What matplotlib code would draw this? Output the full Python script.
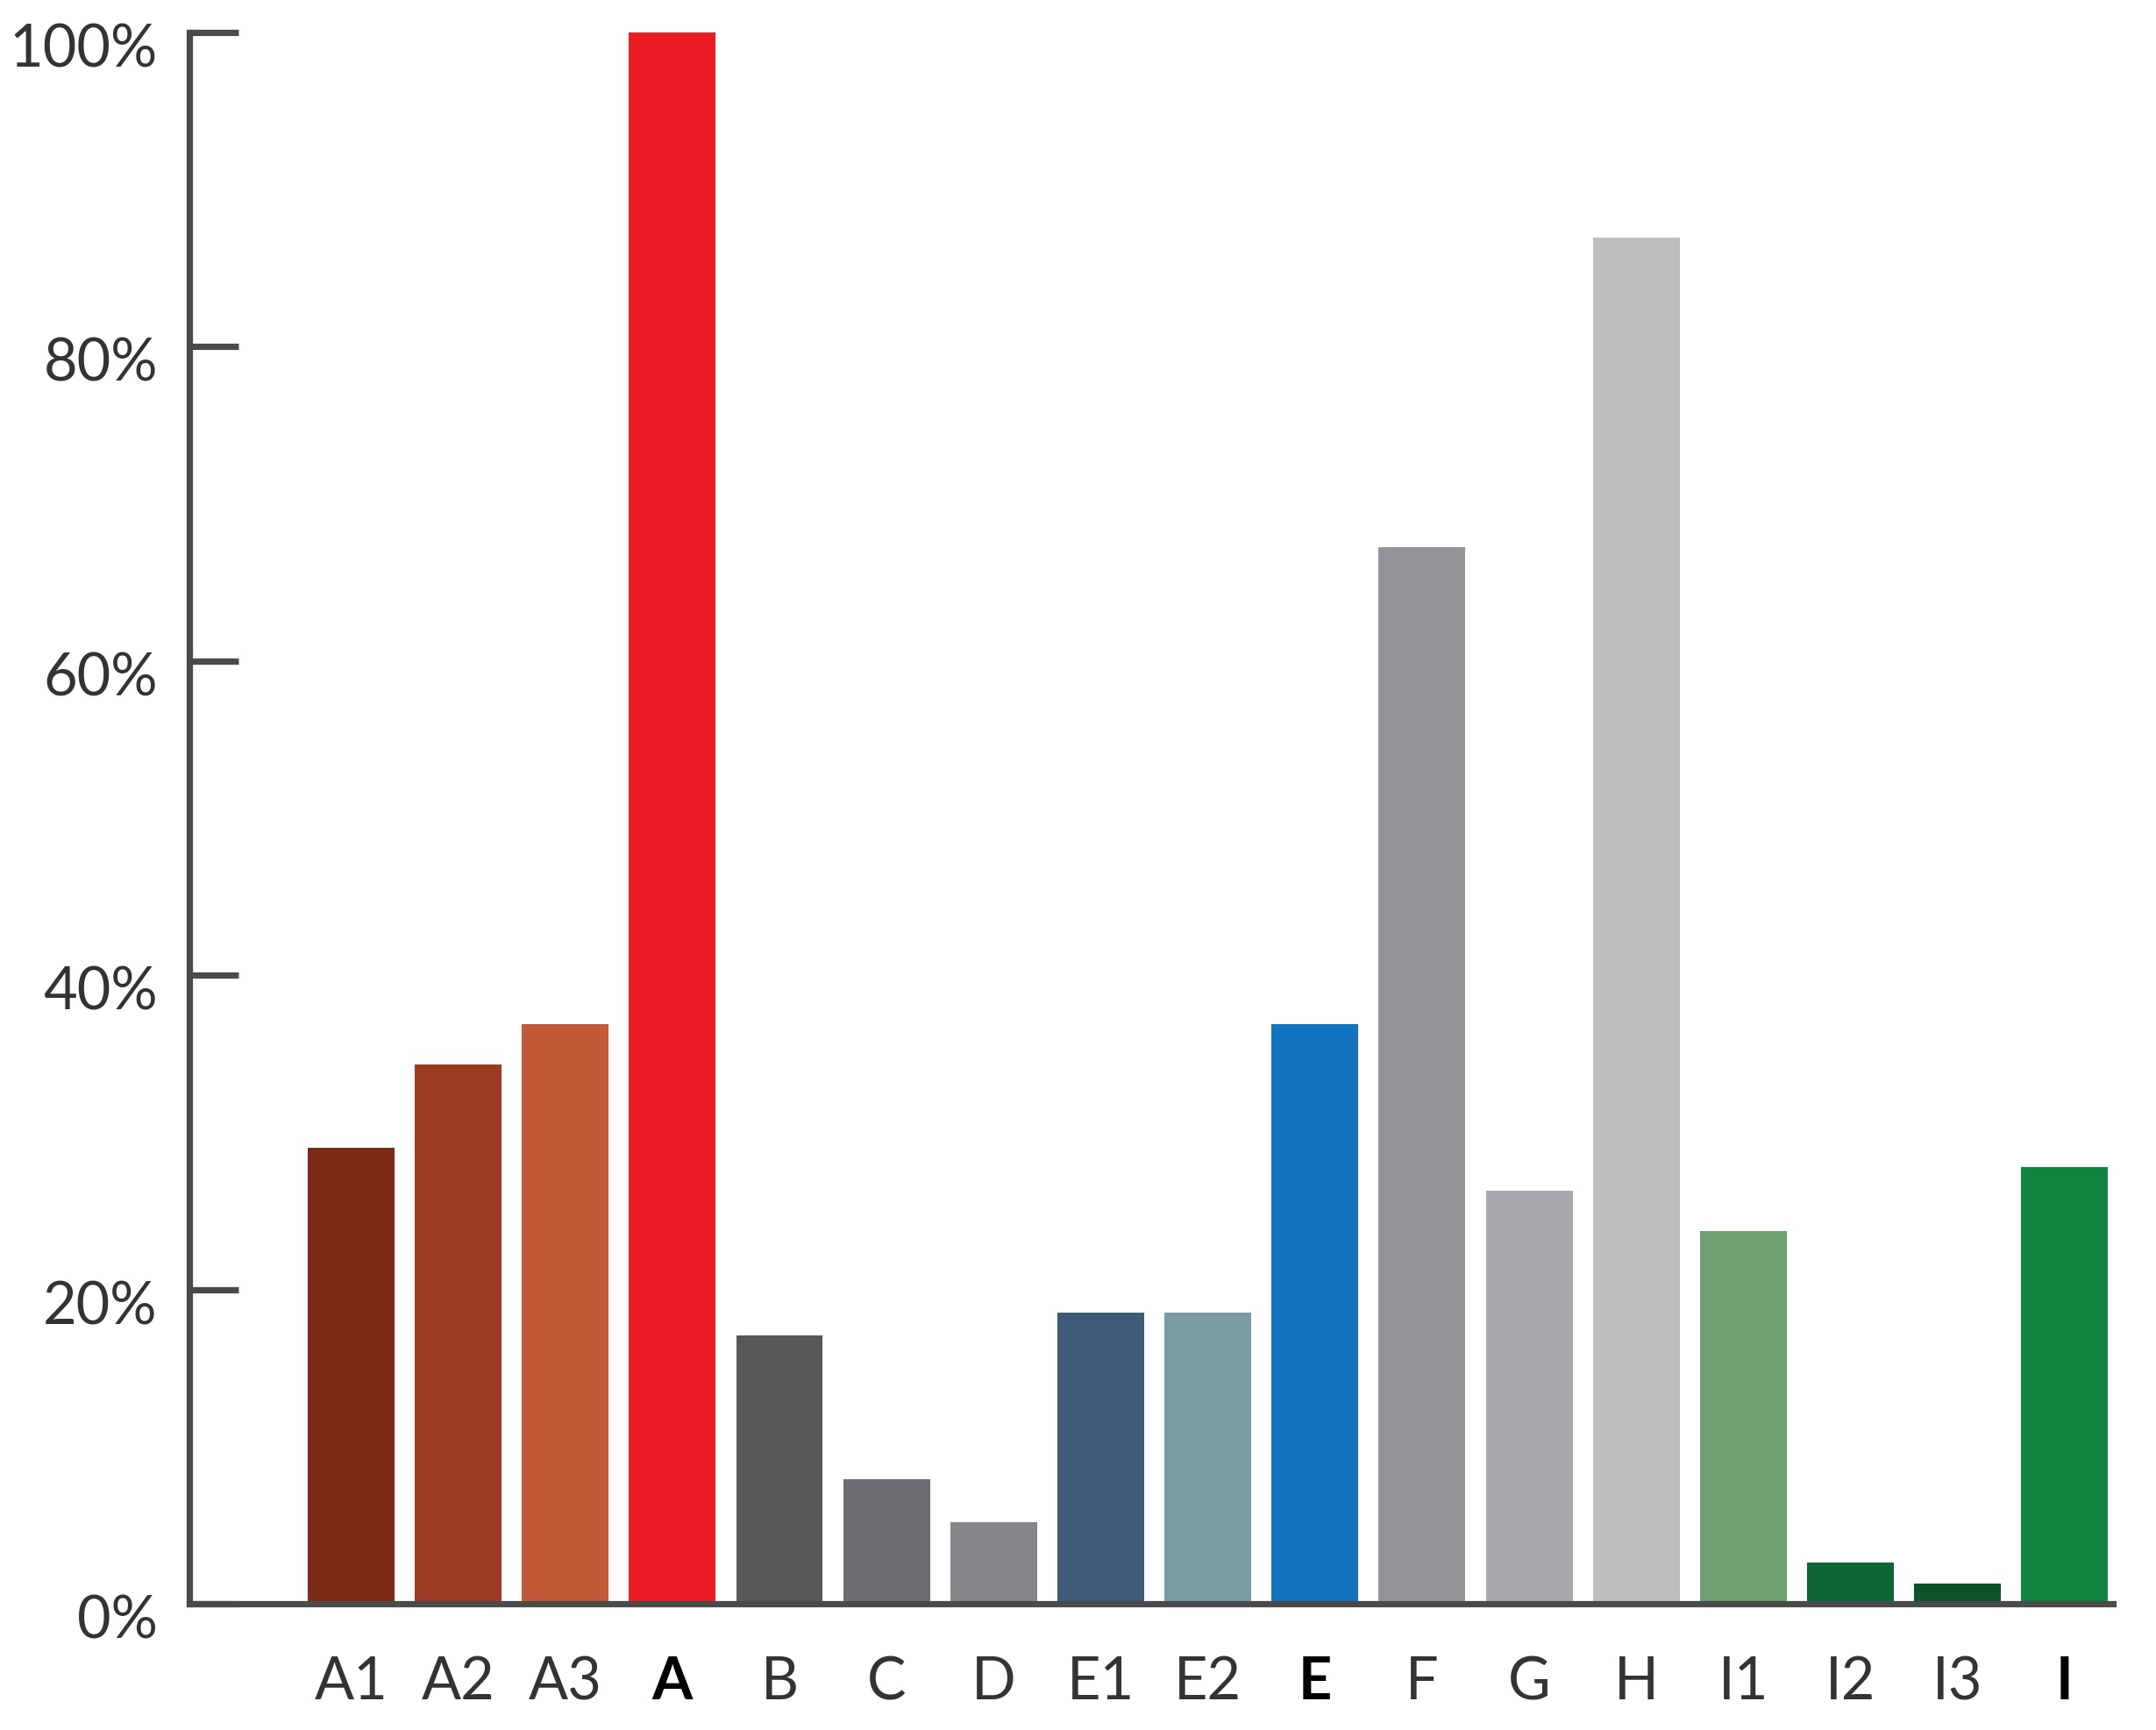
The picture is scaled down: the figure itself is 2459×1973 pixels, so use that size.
import matplotlib.pyplot as plt
from matplotlib.transforms import ScaledTranslation

# chart data
categories = ["A1", "A2", "A3", "A", "B", "C", "D", "E1", "E2", "E",
              "F", "G", "H", "I1", "I2", "I3", "I"]
values = [29.0, 34.3, 36.9, 100.0, 17.1, 7.9, 5.2, 18.5, 18.5, 36.9,
          67.2, 26.3, 86.9, 23.7, 2.6, 1.3, 27.8]
colors = ["#7B2A15", "#9C3A22", "#C05A38", "#EC1C24", "#58585A", "#6D6E71",
          "#848689", "#3F5B78", "#7A9BA6", "#1273BE", "#939598", "#A7A9AC",
          "#BCBEC0", "#6E9F72", "#0B6633", "#0A5428", "#0F8441"]
bold_labels = ["A", "E", "I"]
y_ticks = [0, 20, 40, 60, 80, 100]

plt.rcParams['font.family'] = ['Lato', 'DejaVu Sans']

fig = plt.figure(figsize=(12.295, 9.87), dpi=200)
ax = fig.add_axes([0.0878, 0.0729, 0.8922, 0.9081])

x = list(range(len(categories)))
ax.bar(x, values, width=0.81, color=colors, zorder=1)

ax.set_xlim(-1.51, 16.45)
ax.set_ylim(0, 100)

for side in ["top", "right"]:
    ax.spines[side].set_visible(False)
for side in ["left", "bottom"]:
    ax.spines[side].set_color("#4a4a4a")
    ax.spines[side].set_linewidth(2.6)
    ax.spines[side].set_zorder(3)

ax.set_yticks(y_ticks)
ax.set_yticklabels([f"{v}%" for v in y_ticks])
ax.tick_params(axis="y", direction="in", length=20, width=2.6, color="#4a4a4a",
               labelsize=24, labelcolor="#333333", pad=13)
offset = ScaledTranslation(0, -5 / 72, fig.dpi_scale_trans)
for lab in ax.get_yticklabels():
    lab.set_transform(lab.get_transform() + offset)

ax.set_xticks(x)
ax.set_xticklabels(categories)
ax.tick_params(axis="x", length=0, labelsize=24, labelcolor="#333333", pad=21)
for lab in ax.get_xticklabels():
    if lab.get_text() in bold_labels:
        lab.set_fontweight("bold")
        lab.set_color("black")

fig.savefig("out.png", dpi=200, facecolor="white")
